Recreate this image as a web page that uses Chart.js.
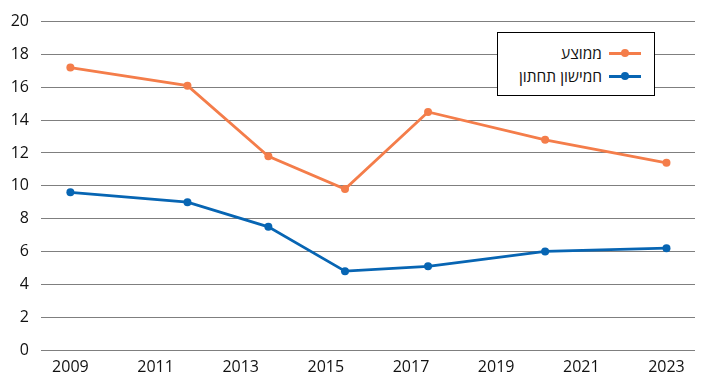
<!DOCTYPE html>
<html lang="he">
<head>
<meta charset="utf-8">
<script src="https://cdn.jsdelivr.net/npm/chart.js@4"></script>
<style>
  body { margin: 0; background: #fff; }
  #wrap { position: relative; width: 701px; height: 391px; }
  #legend {
    position: absolute; left: 497px; top: 32px; width: 156px; height: 62px;
    border: 1.5px solid #000; background: #fff; direction: rtl;
    font-family: "Open Sans", "DejaVu Sans", sans-serif; font-size: 15.5px; color: #111;
    box-sizing: content-box;
  }
  #legend .item { position: absolute; right: 13px; height: 20px; display: flex; align-items: center; white-space: nowrap; }
  #legend .sw { position: relative; width: 32px; height: 3px; margin-left: 7px; }
  #legend .sw i { position: absolute; left: 12px; top: -2.5px; width: 8px; height: 8px; border-radius: 50%; }
</style>
</head>
<body>
<div id="wrap">
  <canvas id="myChart"></canvas>
  <div id="legend"></div>
</div>
<script>
// survey points (x positions on the year scale)
const surveyYears = [2009, 2011.75, 2013.65, 2015.45, 2017.4, 2020.15, 2023];
const average = [17.2, 16.1, 11.8, 9.8, 14.5, 12.8, 11.4];
const bottomQuintile = [9.6, 9.0, 7.5, 4.8, 5.1, 6.0, 6.2];
const yearTicks = [2009, 2011, 2013, 2015, 2017, 2019, 2021, 2023];
const seriesNames = ['ממוצע', 'חמישון תחתון'];
const seriesColors = ['#F47D4A', '#0765B3'];

const toPoints = (vals) => surveyYears.map((x, i) => ({ x: x, y: vals[i] }));

const htmlLegend = {
  id: 'htmlLegend',
  afterUpdate(chart) {
    const box = document.getElementById('legend');
    box.innerHTML = '';
    chart.data.datasets.forEach((ds, i) => {
      const row = document.createElement('div');
      row.className = 'item';
      row.style.top = (10 + i * 23) + 'px';
      const sw = document.createElement('span');
      sw.className = 'sw';
      sw.style.background = ds.borderColor;
      const dot = document.createElement('i');
      dot.style.background = ds.borderColor;
      sw.appendChild(dot);
      const txt = document.createElement('span');
      txt.textContent = ds.label;
      row.appendChild(sw);
      row.appendChild(txt);
      box.appendChild(row);
    });
  }
};

const tickFont = { family: '"Open Sans", "DejaVu Sans", sans-serif', size: 16 };
const ctx = document.getElementById('myChart');

new Chart(ctx, {
  type: 'line',
  data: {
    datasets: [{
      label: seriesNames[0],
      data: toPoints(average),
      borderColor: seriesColors[0],
      backgroundColor: seriesColors[0],
      borderWidth: 2.75,
      pointRadius: 4,
      pointBorderWidth: 0,
      tension: 0
    },
    {
      label: seriesNames[1],
      data: toPoints(bottomQuintile),
      borderColor: seriesColors[1],
      backgroundColor: seriesColors[1],
      borderWidth: 2.75,
      pointRadius: 4,
      pointBorderWidth: 0,
      tension: 0
    }]
  },
  options: {
    responsive: true,
    maintainAspectRatio: false,
    animation: false,
    layout: { padding: { left: 0, right: 6, top: 19, bottom: 0 } },
    plugins: {
      legend: { display: false },
      tooltip: { enabled: false }
    },
    scales: {
      x: {
        type: 'linear',
        min: 2008.31,
        max: 2023.67,
        afterBuildTicks: (scale) => { scale.ticks = yearTicks.map(v => ({ value: v })); },
        afterFit: (scale) => { scale.height = 41; },
        grid: { display: false, drawTicks: false },
        border: { display: false },
        ticks: {
          padding: 8,
          autoSkip: false,
          maxRotation: 0,
          color: '#111',
          font: tickFont,
          callback: (v) => String(v)
        }
      },
      y: {
        min: 0,
        max: 20,
        afterFit: (scale) => { scale.width = 41; },
        grid: { color: '#7f7f7f', lineWidth: 1, drawTicks: false },
        border: { display: false },
        ticks: {
          stepSize: 2,
          padding: 12,
          color: '#111',
          font: tickFont
        }
      }
    }
  },
  plugins: [htmlLegend]
});
</script>
</body>
</html>
